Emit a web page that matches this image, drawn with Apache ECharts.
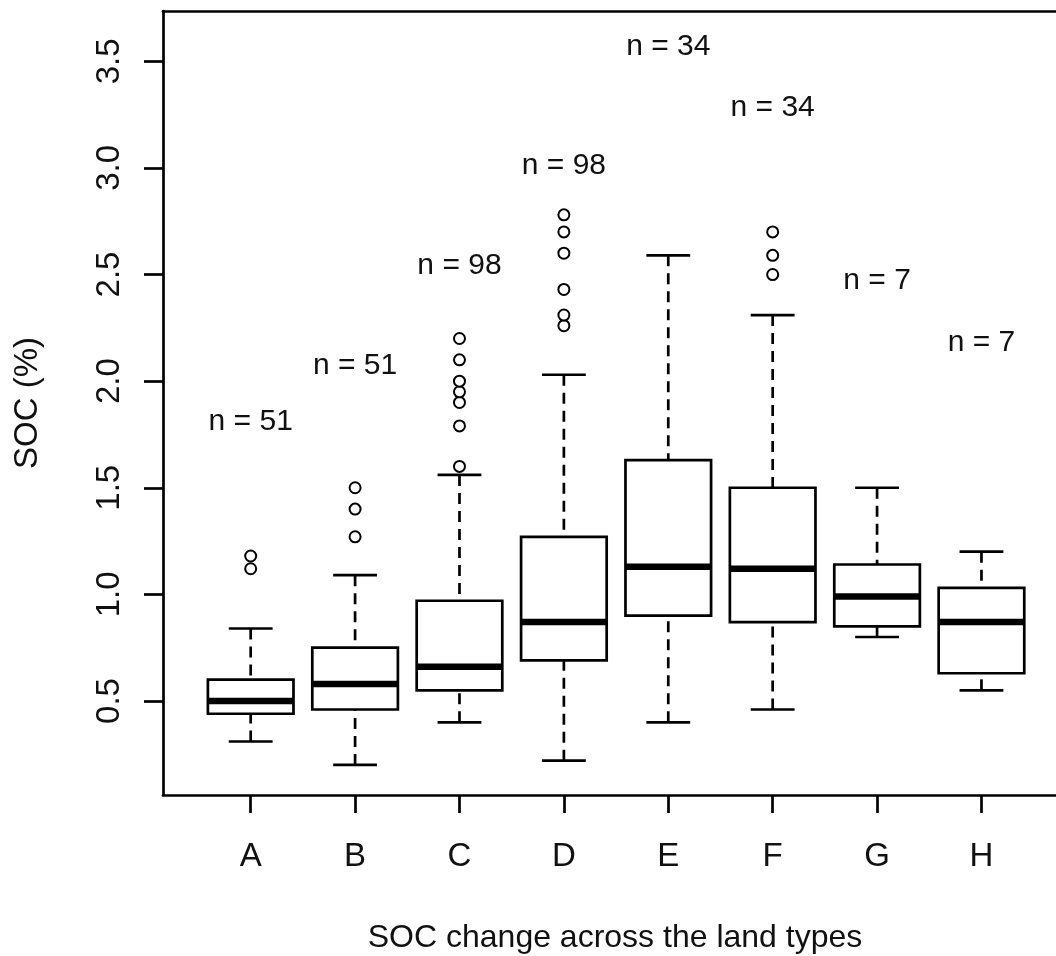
<!DOCTYPE html>
<html>
<head>
<meta charset="utf-8">
<script src="https://cdn.jsdelivr.net/npm/echarts@6/dist/echarts.min.js"></script>
<style>
  html, body { margin: 0; padding: 0; background: #fff; }
  #chart { width: 1056px; height: 956px; }
</style>
</head>
<body>
<div id="chart"></div>
<script>
// Land types along the x axis
const categories = ['A', 'B', 'C', 'D', 'E', 'F', 'G', 'H'];

// Five-number summaries of SOC (%) per land type
const lowWhisker  = [0.31, 0.20, 0.40, 0.22, 0.40, 0.46, 0.80, 0.55];
const q1          = [0.44, 0.46, 0.55, 0.69, 0.90, 0.87, 0.85, 0.63];
const median      = [0.50, 0.58, 0.66, 0.87, 1.13, 1.12, 0.99, 0.87];
const q3          = [0.60, 0.75, 0.97, 1.27, 1.63, 1.50, 1.14, 1.03];
const highWhisker = [0.84, 1.09, 1.56, 2.03, 2.59, 2.31, 1.50, 1.20];

// Outlying observations per land type
const outliersA = [1.12, 1.18];
const outliersB = [1.27, 1.40, 1.50];
const outliersC = [1.60, 1.79, 1.90, 1.95, 2.00, 2.10, 2.20];
const outliersD = [2.26, 2.31, 2.43, 2.60, 2.70, 2.78];
const outliersE = [];
const outliersF = [2.50, 2.59, 2.70];
const outliersG = [];
const outliersH = [];

// Sample sizes and the height at which each count is printed
const sampleSizes = [51, 51, 98, 98, 34, 34, 7, 7];
const countLabelY = [1.81, 2.07, 2.54, 3.01, 3.57, 3.28, 2.47, 2.18];

// Axis ticks
const xTickPositions = [1, 2, 3, 4, 5, 6, 7, 8];
const yTickValues = [0.5, 1.0, 1.5, 2.0, 2.5, 3.0, 3.5];

const FONT = 'Liberation Sans, Arial, sans-serif';
const INK = '#000';
const TEXT = '#111';
const X_MIN = 0.16, X_MAX = 8.714;
const LW = 2.7;

const boxData = categories.map((c, i) =>
  [i + 1, lowWhisker[i], q1[i], median[i], q3[i], highWhisker[i]]);

const outlierGroups = [outliersA, outliersB, outliersC, outliersD,
                       outliersE, outliersF, outliersG, outliersH];
const outlierData = [];
outlierGroups.forEach((g, i) => g.forEach(v => outlierData.push([i + 1, v])));

const countData = categories.map((c, i) => [i + 1, countLabelY[i], sampleSizes[i]]);

function renderBox(params, api) {
  const x = api.value(0);
  const lo = api.coord([x, api.value(1)]);
  const b1 = api.coord([x, api.value(2)]);
  const md = api.coord([x, api.value(3)]);
  const b3 = api.coord([x, api.value(4)]);
  const hi = api.coord([x, api.value(5)]);
  const boxW = api.size([0.82, 0])[0];
  const capW = api.size([0.42, 0])[0];
  const cx = lo[0];
  const dashed = { stroke: INK, lineWidth: LW, lineDash: [11, 7], fill: null };
  const solid = { stroke: INK, lineWidth: LW, fill: null };
  return {
    type: 'group',
    children: [
      { type: 'line', shape: { x1: cx, y1: hi[1], x2: cx, y2: b3[1] }, style: dashed },
      { type: 'line', shape: { x1: cx, y1: lo[1], x2: cx, y2: b1[1] }, style: dashed },
      { type: 'line', shape: { x1: cx - capW / 2, y1: hi[1], x2: cx + capW / 2, y2: hi[1] }, style: solid },
      { type: 'line', shape: { x1: cx - capW / 2, y1: lo[1], x2: cx + capW / 2, y2: lo[1] }, style: solid },
      { type: 'rect', shape: { x: cx - boxW / 2, y: b3[1], width: boxW, height: b1[1] - b3[1] },
        style: { stroke: INK, lineWidth: LW, fill: '#fff' } },
      { type: 'line', shape: { x1: cx - boxW / 2, y1: md[1], x2: cx + boxW / 2, y2: md[1] },
        style: { stroke: INK, lineWidth: 6.5 } }
    ]
  };
}

const chart = echarts.init(document.getElementById('chart'), null, { renderer: 'canvas' });

chart.setOption({
  animation: false,
  backgroundColor: '#fff',
  grid: { left: 163, top: 11, bottom: 161, right: 0, show: false },
  xAxis: [
    {
      type: 'value',
      min: X_MIN, max: X_MAX,
      splitLine: { show: false },
      axisLine: { show: true, onZero: false, lineStyle: { color: INK, width: LW } },
      axisTick: { show: true, length: 18, customValues: xTickPositions,
                  lineStyle: { color: INK, width: LW } },
      axisLabel: {
        customValues: xTickPositions,
        formatter: v => categories[Math.round(v) - 1],
        fontSize: 33, fontFamily: FONT, color: TEXT, margin: 45
      }
    },
    {
      // top frame line of the plotting region
      type: 'value',
      position: 'top',
      min: X_MIN, max: X_MAX,
      splitLine: { show: false },
      axisLine: { show: true, onZero: false, lineStyle: { color: INK, width: LW } },
      axisTick: { show: false },
      axisLabel: { show: false }
    }
  ],
  yAxis: {
    type: 'value',
    min: 0.059, max: 3.736,
    splitLine: { show: false },
    axisLine: { show: true, onZero: false, lineStyle: { color: INK, width: LW } },
    axisTick: { show: true, length: 19, customValues: yTickValues,
                lineStyle: { color: INK, width: LW } },
    axisLabel: {
      customValues: yTickValues,
      formatter: v => v.toFixed(1),
      rotate: 90,
      fontSize: 33, fontFamily: FONT, color: TEXT, margin: 37
    }
  },
  graphic: [
    { type: 'text', x: 615, y: 938,
      style: { text: 'SOC change across the land types', font: '32px ' + FONT,
               fill: TEXT, textAlign: 'center', textVerticalAlign: 'middle' } },
    { type: 'text', x: 28, y: 403, rotation: Math.PI / 2,
      style: { text: 'SOC (%)', font: '33px ' + FONT,
               fill: TEXT, textAlign: 'center', textVerticalAlign: 'middle' } }
  ],
  series: [
    {
      type: 'custom',
      renderItem: renderBox,
      data: boxData,
      encode: { x: 0, y: [1, 2, 3, 4, 5] },
      z: 2
    },
    {
      type: 'scatter',
      data: outlierData,
      symbol: 'emptyCircle',
      symbolSize: 11,
      itemStyle: { color: INK, borderColor: INK, borderWidth: 2.3, opacity: 1 },
      z: 3
    },
    {
      type: 'scatter',
      data: countData,
      symbolSize: 0,
      itemStyle: { opacity: 1 },
      label: {
        show: true, position: 'inside',
        formatter: p => 'n = ' + p.value[2],
        fontSize: 30, fontFamily: FONT, color: TEXT
      },
      z: 4
    }
  ]
});
</script>
</body>
</html>
